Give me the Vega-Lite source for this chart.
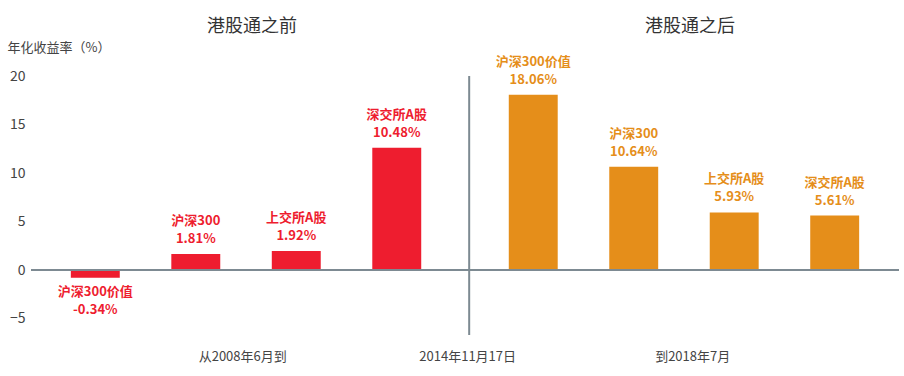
{
  "$schema": "https://vega.github.io/schema/vega-lite/v6.json",
  "width": 868,
  "height": 259,
  "autosize": {"type": "none"},
  "padding": {"left": 31, "top": 76, "right": 5, "bottom": 41},
  "background": "white",
  "config": {
    "view": {"stroke": null},
    "font": "Noto Sans CJK SC",
    "axis": {"grid": false, "domain": false, "ticks": false, "tickSize": 0}
  },
  "datasets": {
    "bars": [
      {"period": "港股通之前", "name": "沪深300价值", "value": -0.8, "pct": "-0.34%"},
      {"period": "港股通之前", "name": "沪深300", "value": 1.66, "pct": "1.81%"},
      {"period": "港股通之前", "name": "上交所A股", "value": 1.97, "pct": "1.92%"},
      {"period": "港股通之前", "name": "深交所A股", "value": 12.6, "pct": "10.48%"},
      {"period": "港股通之后", "name": "沪深300价值", "value": 18.06, "pct": "18.06%"},
      {"period": "港股通之后", "name": "沪深300", "value": 10.64, "pct": "10.64%"},
      {"period": "港股通之后", "name": "上交所A股", "value": 5.93, "pct": "5.93%"},
      {"period": "港股通之后", "name": "深交所A股", "value": 5.61, "pct": "5.61%"}
    ],
    "dates": [{"date": "2014年11月17日"}]
  },
  "layer": [
    {
      "data": {"name": "bars"},
      "encoding": {
        "x": {
          "field": "period", "type": "nominal",
          "scale": {"domain": ["港股通之前", "港股通之后"], "paddingInner": 0.082, "paddingOuter": 0.032},
          "axis": {"orient": "top", "title": null, "labelAngle": 0, "labelFontSize": 18, "labelColor": "#333333", "labelPadding": 41, "labelOffset": 6}
        },
        "xOffset": {
          "field": "name", "type": "nominal",
          "scale": {"domain": ["沪深300价值", "沪深300", "上交所A股", "深交所A股"], "paddingInner": 0.513, "paddingOuter": 0.257}
        },
        "y": {
          "field": "value", "type": "quantitative",
          "scale": {"domain": [-6.7, 20], "nice": false, "zero": false},
          "axis": {
            "values": [-5, 0, 5, 10, 15, 20],
            "labelFontSize": 14, "labelColor": "#444444", "labelPadding": 6,
            "title": "年化收益率（%）", "titleAngle": 0, "titleAlign": "left", "titleBaseline": "middle",
            "titleX": -24, "titleY": -29, "titleFontSize": 13, "titleFontWeight": "normal", "titleColor": "#444444"
          }
        },
        "color": {
          "field": "period", "type": "nominal",
          "scale": {"domain": ["港股通之前", "港股通之后"], "range": ["#ee1d2f", "#e58e1a"]},
          "legend": null
        }
      },
      "layer": [
        {"mark": {"type": "bar"}},
        {
          "transform": [{"filter": "datum.value >= 0"}],
          "mark": {"type": "text", "baseline": "bottom", "dy": -8, "fontSize": 13, "fontWeight": "bold"},
          "encoding": {"text": {"field": "pct", "type": "nominal"}}
        },
        {
          "transform": [{"filter": "datum.value >= 0"}],
          "mark": {"type": "text", "baseline": "bottom", "dy": -26, "fontSize": 13, "fontWeight": "bold"},
          "encoding": {"text": {"field": "name", "type": "nominal"}}
        },
        {
          "transform": [{"filter": "datum.value < 0"}],
          "mark": {"type": "text", "baseline": "top", "dy": 8, "fontSize": 13, "fontWeight": "bold"},
          "encoding": {"text": {"field": "name", "type": "nominal"}}
        },
        {
          "transform": [{"filter": "datum.value < 0"}],
          "mark": {"type": "text", "baseline": "top", "dy": 26, "fontSize": 13, "fontWeight": "bold"},
          "encoding": {"text": {"field": "pct", "type": "nominal"}}
        }
      ]
    },
    {
      "data": {"values": [{}]},
      "mark": {"type": "rule", "color": "#7d8a92", "strokeWidth": 2},
      "encoding": {"y": {"datum": 0}}
    },
    {
      "data": {"name": "dates"},
      "mark": {"type": "rule", "color": "#7d8a92", "strokeWidth": 2},
      "encoding": {
        "x": {
          "field": "date", "type": "nominal",
          "scale": {"type": "point", "domain": ["从2008年6月到", "2014年11月17日", "到2018年7月"], "padding": 0.929, "align": 0.51},
          "axis": {"orient": "bottom", "title": null, "labelAngle": 0, "labelFontSize": 13, "labelColor": "#444444", "labelPadding": 15, "labelOffset": -2}
        }
      }
    }
  ],
  "resolve": {"scale": {"x": "independent"}}
}
